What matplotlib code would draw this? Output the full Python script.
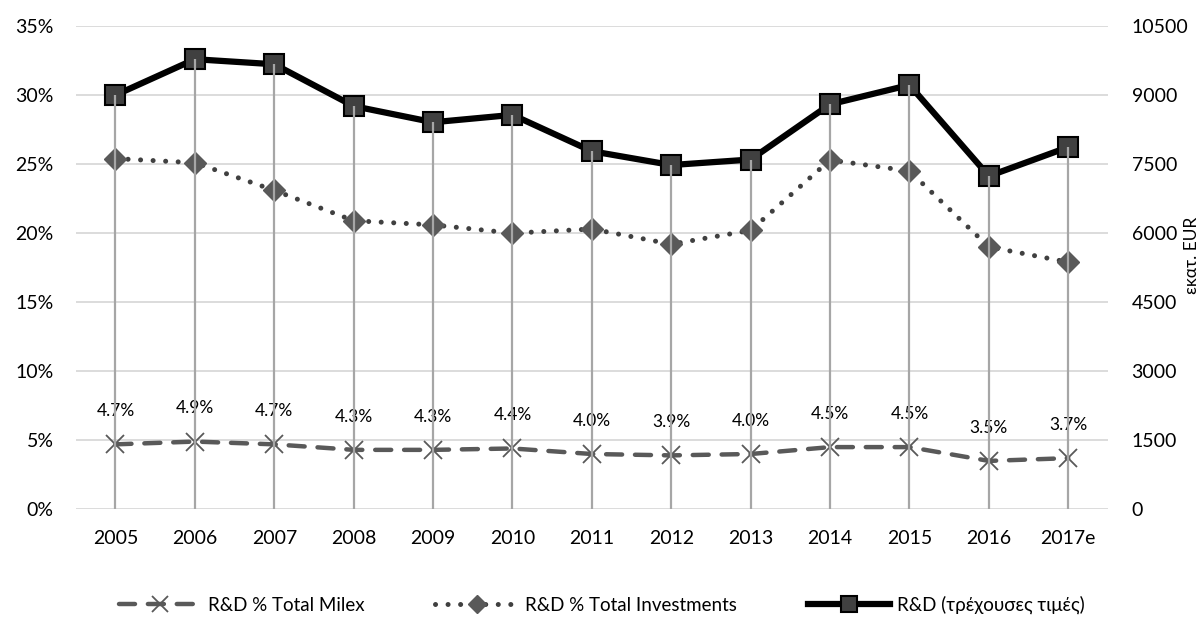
import matplotlib
matplotlib.use("Agg")
import matplotlib.pyplot as plt
from matplotlib.lines import Line2D
from matplotlib.ticker import FuncFormatter

plt.rcParams['font.family'] = ['Lato', 'Open Sans', 'DejaVu Sans']

years = ['2005', '2006', '2007', '2008', '2009', '2010', '2011', '2012', '2013',
         '2014', '2015', '2016', '2017e']
milex_pct = [4.7, 4.9, 4.7, 4.3, 4.3, 4.4, 4.0, 3.9, 4.0, 4.5, 4.5, 3.5, 3.7]
invest_pct = [25.4, 25.1, 23.1, 20.9, 20.6, 20.0, 20.3, 19.2, 20.2, 25.3, 24.5, 19.0, 17.9]
rd_eur = [9000, 9780, 9670, 8760, 8410, 8570, 7780, 7480, 7600, 8800, 9220, 7240, 7870]

left_ticks = [0, 5, 10, 15, 20, 25, 30, 35]
right_ticks = [0, 1500, 3000, 4500, 6000, 7500, 9000, 10500]

fig = plt.figure(figsize=(12.03, 6.21), dpi=100)
ax = fig.add_axes([0.063, 0.18, 0.858, 0.778])
ax2 = ax.twinx()

x = list(range(len(years)))

milex_style = dict(color='#595959', linestyle=(0, (3.6, 2.9)), linewidth=3.2,
                   dash_capstyle='round', marker='x', markeredgewidth=1.3,
                   markeredgecolor='#595959')
invest_style = dict(color='#404040', linestyle=(0, (0.01, 2.5)), linewidth=3.6,
                    dash_capstyle='round', marker='D', markerfacecolor='#595959',
                    markeredgecolor='#595959')
rd_style = dict(color='#000000', linewidth=4.5, marker='s', markerfacecolor='#404040',
                markeredgecolor='#000000', markeredgewidth=1.5)

ax.set_ylim(0, 35)
ax.set_yticks(left_ticks)
ax.yaxis.set_major_formatter(FuncFormatter(lambda v, p: f"{int(v)}%"))
ax.grid(axis='y', color='#d9d9d9', linewidth=1.3, zorder=0)
ax.set_axisbelow(True)
ax.set_xlim(-0.5, len(years) - 0.5)
ax.set_xticks(x)
ax.set_xticklabels(years)

ax.plot(x, milex_pct, markersize=13, zorder=3, **milex_style)
ax.plot(x, invest_pct, markersize=11, zorder=3, **invest_style)

for xi, v in zip(x, milex_pct):
    ax.annotate(f"{v:.1f}%", (xi, v), xytext=(0, 24), textcoords='offset points',
                ha='center', va='center', fontsize=12.5, color='#000000')

ax2.set_ylim(0, 10500)
ax2.set_yticks(right_ticks)
ax2.plot(x, rd_eur, markersize=14, zorder=3, **rd_style)
ax2.vlines(x, 0, rd_eur, colors='#a6a6a6', linewidth=1.6, zorder=4)

fig.text(1192 / 1203, 1 - 255 / 621, 'εκατ. EUR', rotation=90, ha='center',
         va='center', fontsize=12.5, color='#000000')

for a in (ax, ax2):
    for s in a.spines.values():
        s.set_visible(False)
    a.tick_params(length=0, labelsize=14, colors='#000000')
ax.tick_params(axis='x', pad=15)
ax.tick_params(axis='y', pad=16)
ax2.tick_params(axis='y', pad=17)

handles = [
    Line2D([], [], markersize=12, **milex_style),
    Line2D([], [], markersize=9, **invest_style),
    Line2D([], [], markersize=12, **rd_style),
]
labels = ['R&D % Total Milex', 'R&D % Total Investments', 'R&D (τρέχουσες τιμές)']
fig.legend(handles, labels, loc='center', bbox_to_anchor=(0.5, 0.026), ncol=3,
           frameon=False, fontsize=13.5, handlelength=4.4, columnspacing=3.8,
           handletextpad=0.35)

fig.savefig('out.png', dpi=100)
